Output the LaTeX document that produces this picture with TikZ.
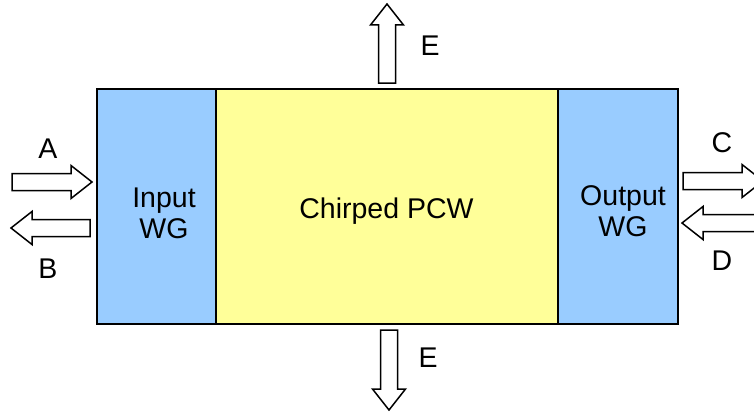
\documentclass[tikz,border=0pt]{standalone}
\usepackage{fontspec}
\setmainfont{Liberation Sans}
\usepackage{tikz}
\usetikzlibrary{positioning}
\definecolor{wgblue}{RGB}{153,204,255}
\definecolor{pcwyellow}{RGB}{255,255,153}
\tikzset{
  pics/hollow arrow/.style={code={
    \draw[line width=1.5pt, fill=white, line join=miter]
      (0,-8.5) -- (#1-21,-8.5) -- (#1-21,-16.5) -- (#1,0) -- (#1-21,16.5)
      -- (#1-21,8.5) -- (0,8.5) -- cycle;}},
  lbl/.style={inner sep=0pt, anchor=base, font=\fontsize{28.5}{31}\selectfont},
}
\begin{document}
\begin{tikzpicture}[x=1pt, y=-1pt]
  \useasboundingbox (0,0) rectangle (754,412);
  \clip (0,0) rectangle (754,412);
  % waveguides and chirped crystal
  \draw[line width=2pt, fill=wgblue] (97,89) rectangle (216,324);
  \draw[line width=2pt, fill=pcwyellow] (216,89) rectangle (558,324);
  \draw[line width=2pt, fill=wgblue] (558,89) rectangle (678,324);
  \node[lbl, align=center] (inwg) at (164,238) {Input\\WG};
  \node[lbl] (pcw) at (386.5,218) {Chirped PCW};
  \node[lbl, align=center] (outwg) at (623,236) {Output\\WG};
  % in and out going waves
  \pic at (12,182) {hollow arrow=80};
  \pic[rotate=180] at (90,228) {hollow arrow=79};
  \pic at (683,181) {hollow arrow=80};
  \pic[rotate=180] at (762,223) {hollow arrow=80};
  \pic[rotate=90] at (387,83) {hollow arrow=79};
  \pic[rotate=-90] at (389,330) {hollow arrow=80};
  \node[lbl] (a) at (48,158) {A};
  \node[lbl] (b) at (48,278) {B};
  \node[lbl] (c) at (722,152) {C};
  \node[lbl] (d) at (722,270) {D};
  \node[lbl] (etop) at (430,56) {E};
  \node[lbl] (ebot) at (428,367) {E};
\end{tikzpicture}
\end{document}
